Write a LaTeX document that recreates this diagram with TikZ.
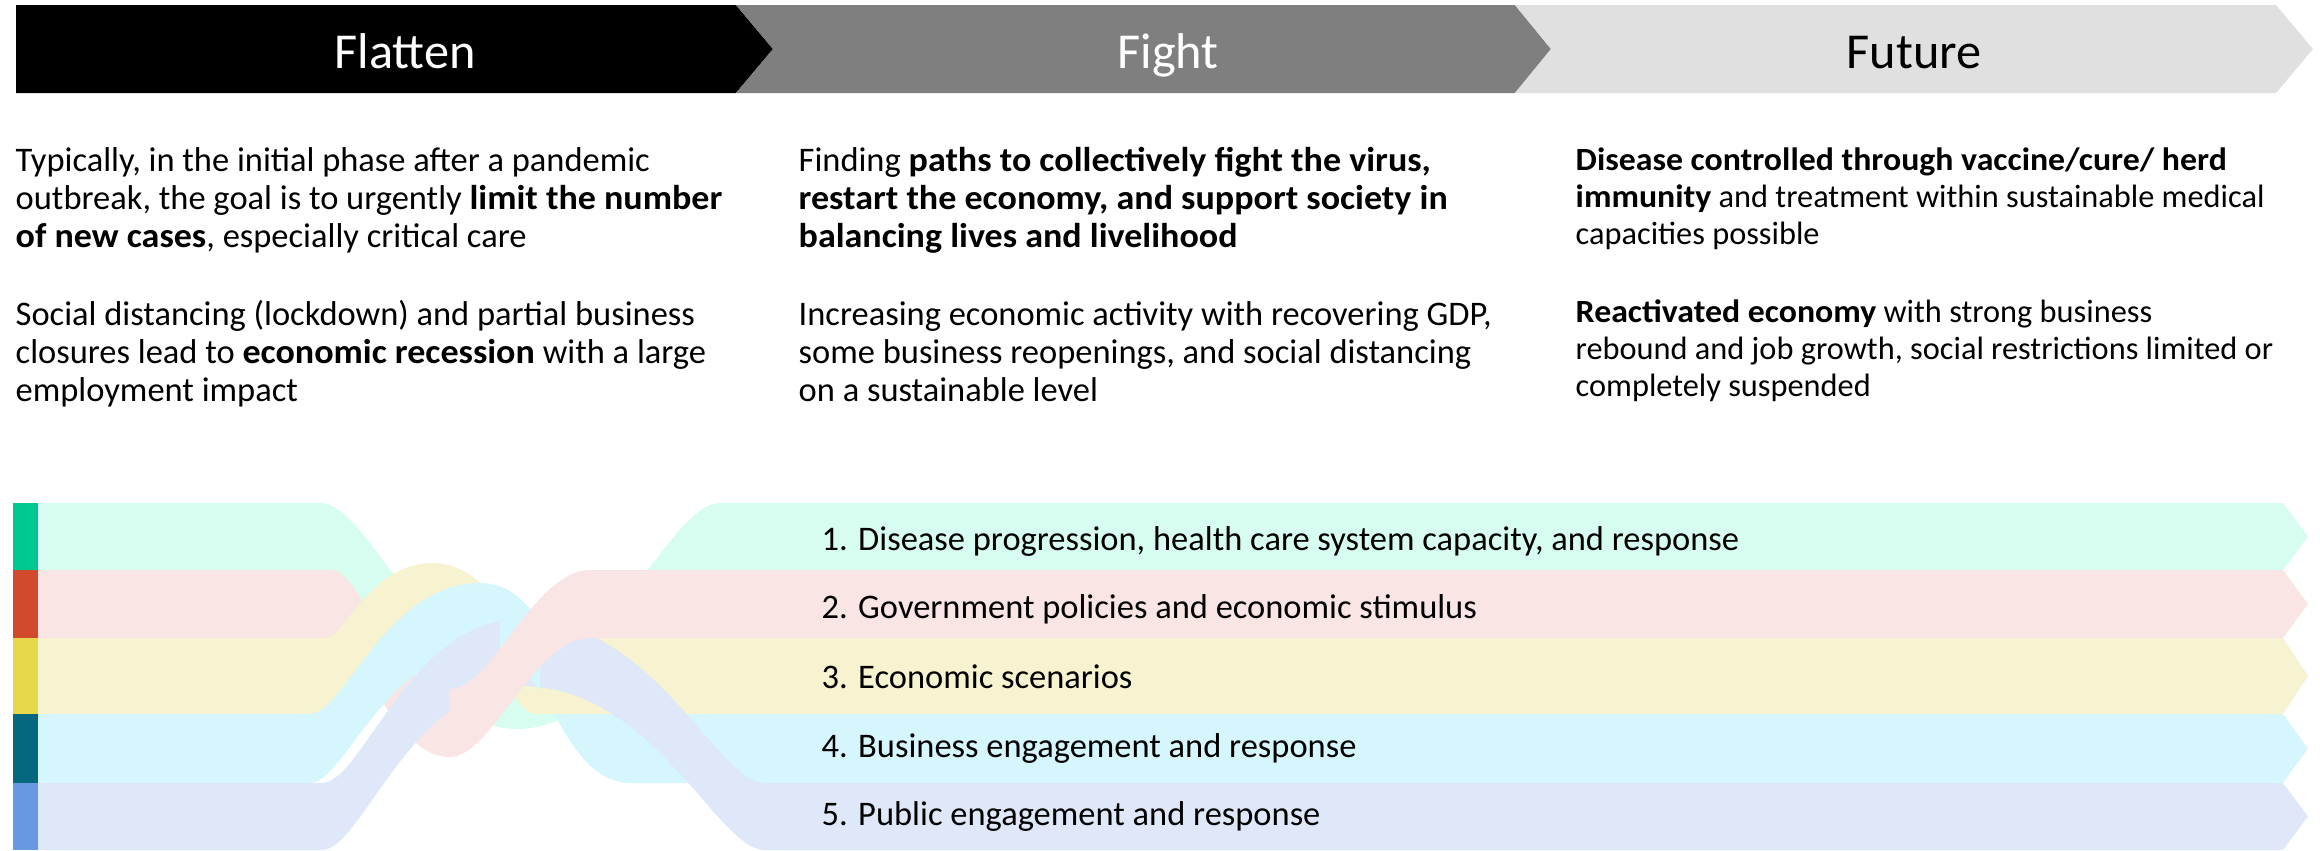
\documentclass[tikz,border=0pt]{standalone}
\usepackage{fontspec}
\setmainfont{Carlito}[BoldFeatures={FakeStretch=1.045}]
\usepackage{tikz}
\usetikzlibrary{calc}

\definecolor{chevgray}{RGB}{127,127,127}
\definecolor{chevlight}{RGB}{224,224,224}
\definecolor{disbar}{RGB}{0,200,145}
\definecolor{govbar}{RGB}{209,74,44}
\definecolor{ecobar}{RGB}{230,216,74}
\definecolor{busbar}{RGB}{5,104,126}
\definecolor{pubbar}{RGB}{104,152,226}
\definecolor{disfill}{RGB}{214,253,240}
\definecolor{govfill}{RGB}{248,229,228}
\definecolor{ecofill}{RGB}{247,242,207}
\definecolor{busfill}{RGB}{213,246,252}
\definecolor{pubfill}{RGB}{222,232,248}

% ribbon #1: top edge through #1-l ... #1-r, bottom edge #2 lower, pointed right end
\newcommand{\ribbon}[2]{(#1-l) -- (#1-a) .. controls (#1-a1) and (#1-a2) .. (#1-m)
  .. controls (#1-b1) and (#1-b2) .. (#1-b) -- (#1-r)
  -- ($(#1-r)+(25,#2/2)$) -- ($(#1-r)+(0,#2)$) -- ($(#1-b)+(0,#2)$)
  .. controls ($(#1-b2)+(0,#2)$) and ($(#1-b1)+(0,#2)$) .. ($(#1-m)+(0,#2)$)
  .. controls ($(#1-a2)+(0,#2)$) and ($(#1-a1)+(0,#2)$) .. ($(#1-a)+(0,#2)$)
  -- ($(#1-l)+(0,#2)$) -- cycle}

\begin{document}
\begin{tikzpicture}[x={(0.01cm,0cm)}, y={(0cm,-0.01cm)},
    title/.style={anchor=base, inner sep=0pt, font=\fontsize{14.3}{17}\selectfont},
    body/.style={anchor=base west, inner sep=0pt, font=\fontsize{9.8}{10.93}\selectfont},
    smallbody/.style={anchor=base west, inner sep=0pt, font=\fontsize{9.2}{10.65}\selectfont},
    tag/.style={anchor=base west, inner sep=0pt, font=\fontsize{9.8}{11}\selectfont}]
    \useasboundingbox (0,0) rectangle (2320,850);

    % phase chevrons
    \fill[black] (16,5) -- (736,5) -- (773,49) -- (736,93) -- (16,93) -- cycle;
    \fill[chevgray] (736,5) -- (1515,5) -- (1551,49) -- (1515,93) -- (736,93) -- (773,49) -- cycle;
    \fill[chevlight] (1515,5) -- (2276,5) -- (2313,49) -- (2276,93) -- (1515,93) -- (1551,49) -- cycle;
    \node[title, white] (flatten) at (405,68) {Flatten};
    \node[title, white] (fight) at (1168,68) {Fight};
    \node[title, black] (future) at (1914,68) {Future};

    % phase descriptions
    \node[body] (flattenA) at (15,171) {\parbox[t]{8cm}{\raggedright
        Typically, in the initial phase after a pandemic\\
        outbreak, the goal is to urgently \textbf{limit the number}\\
        \textbf{of new cases}, especially critical care}};
    \node[body] (flattenB) at (15,325) {\parbox[t]{8cm}{\raggedright
        Social distancing (lockdown) and partial business\\
        closures lead to \textbf{economic recession} with a large\\
        employment impact}};
    \node[body] (fightA) at (798,171) {\parbox[t]{8cm}{\raggedright
        Finding \textbf{paths to collectively fight the virus,}\\
        \textbf{restart the economy, and support society in}\\
        \textbf{balancing lives and livelihood}}};
    \node[body] (fightB) at (798,325) {\parbox[t]{8cm}{\raggedright
        Increasing economic activity with recovering GDP,\\
        some business reopenings, and social distancing\\
        on a sustainable level}};
    \node[smallbody] (futureA) at (1575,170) {\parbox[t]{7.4cm}{\raggedright
        \textbf{Disease controlled through vaccine/cure/ herd}\\
        \textbf{immunity} and treatment within sustainable medical\\
        capacities possible}};
    \node[smallbody] (futureB) at (1575,322) {\parbox[t]{7.4cm}{\raggedright
        \textbf{Reactivated economy} with strong business\\
        rebound and job growth, social restrictions limited or\\
        completely suspended}};

    % ribbon shapes (top edge points)
    \coordinate (dis-l) at (38,503);  \coordinate (dis-a) at (320,503);
    \coordinate (dis-a1) at (369,503); \coordinate (dis-a2) at (418,662);
    \coordinate (dis-m) at (517,662);  \coordinate (dis-b1) at (619,662);
    \coordinate (dis-b2) at (670,503); \coordinate (dis-b) at (720,503);
    \coordinate (dis-r) at (2283,503);

    \coordinate (gov-l) at (38,570);  \coordinate (gov-a) at (332,570);
    \coordinate (gov-a1) at (361,570); \coordinate (gov-a2) at (391,689);
    \coordinate (gov-m) at (450,689);  \coordinate (gov-b1) at (492,689);
    \coordinate (gov-b2) at (534,570); \coordinate (gov-b) at (590,570);
    \coordinate (gov-r) at (2283,570);

    \coordinate (eco-l) at (38,638);  \coordinate (eco-a) at (327,638);
    \coordinate (eco-a1) at (343,638); \coordinate (eco-a2) at (370,563);
    \coordinate (eco-m) at (433,563);  \coordinate (eco-b1) at (489,563);
    \coordinate (eco-b2) at (515,638); \coordinate (eco-b) at (535,638);
    \coordinate (eco-r) at (2283,638);

    \coordinate (bus-l) at (38,714);  \coordinate (bus-a) at (310,714);
    \coordinate (bus-a1) at (344,714); \coordinate (bus-a2) at (386,583);
    \coordinate (bus-m) at (480,583);  \coordinate (bus-b1) at (556,583);
    \coordinate (bus-b2) at (556,714); \coordinate (bus-b) at (632,714);
    \coordinate (bus-r) at (2283,714);

    \coordinate (pub-l) at (38,783);  \coordinate (pub-a) at (322,783);
    \coordinate (pub-a1) at (362,783); \coordinate (pub-a2) at (411,619);
    \coordinate (pub-m) at (520,619);  \coordinate (pub-b1) at (655,619);
    \coordinate (pub-b2) at (716,783); \coordinate (pub-b) at (765,783);
    \coordinate (pub-r) at (2283,783);

    % woven ribbons, back to front
    \fill[disfill] \ribbon{dis}{67};
    \begin{scope}
        \clip (0,450) rectangle (450,860);
        \fill[govfill] \ribbon{gov}{68};
    \end{scope}
    \begin{scope}
        \clip (540,450) rectangle (2320,860);
        \fill[busfill] \ribbon{bus}{69};
    \end{scope}
    \fill[ecofill] \ribbon{eco}{76};
    \begin{scope}
        \clip (500,450) rectangle (2320,860);
        \fill[pubfill] \ribbon{pub}{67};
    \end{scope}
    \begin{scope}
        \clip (0,450) rectangle (540,860);
        \fill[busfill] \ribbon{bus}{69};
    \end{scope}
    \begin{scope}
        \clip (0,450) rectangle (500,860);
        \fill[pubfill] \ribbon{pub}{67};
    \end{scope}
    \begin{scope}
        \clip (450,450) rectangle (2320,860);
        \fill[govfill] \ribbon{gov}{68};
    \end{scope}

    % colour keys on the left
    \fill[disbar] (13,503) rectangle (38,570);
    \fill[govbar] (13,570) rectangle (38,638);
    \fill[ecobar] (13,638) rectangle (38,714);
    \fill[busbar] (13,714) rectangle (38,783);
    \fill[pubbar] (13,783) rectangle (38,850);

    % ribbon labels
    \node[tag] (dis) at (821,550) {1. Disease progression, health care system capacity, and response};
    \node[tag] (gov) at (821,618) {2. Government policies and economic stimulus};
    \node[tag] (eco) at (821,688) {3. Economic scenarios};
    \node[tag] (bus) at (821,757) {4. Business engagement and response};
    \node[tag] (pub) at (821,825) {5. Public engagement and response};
\end{tikzpicture}
\end{document}
